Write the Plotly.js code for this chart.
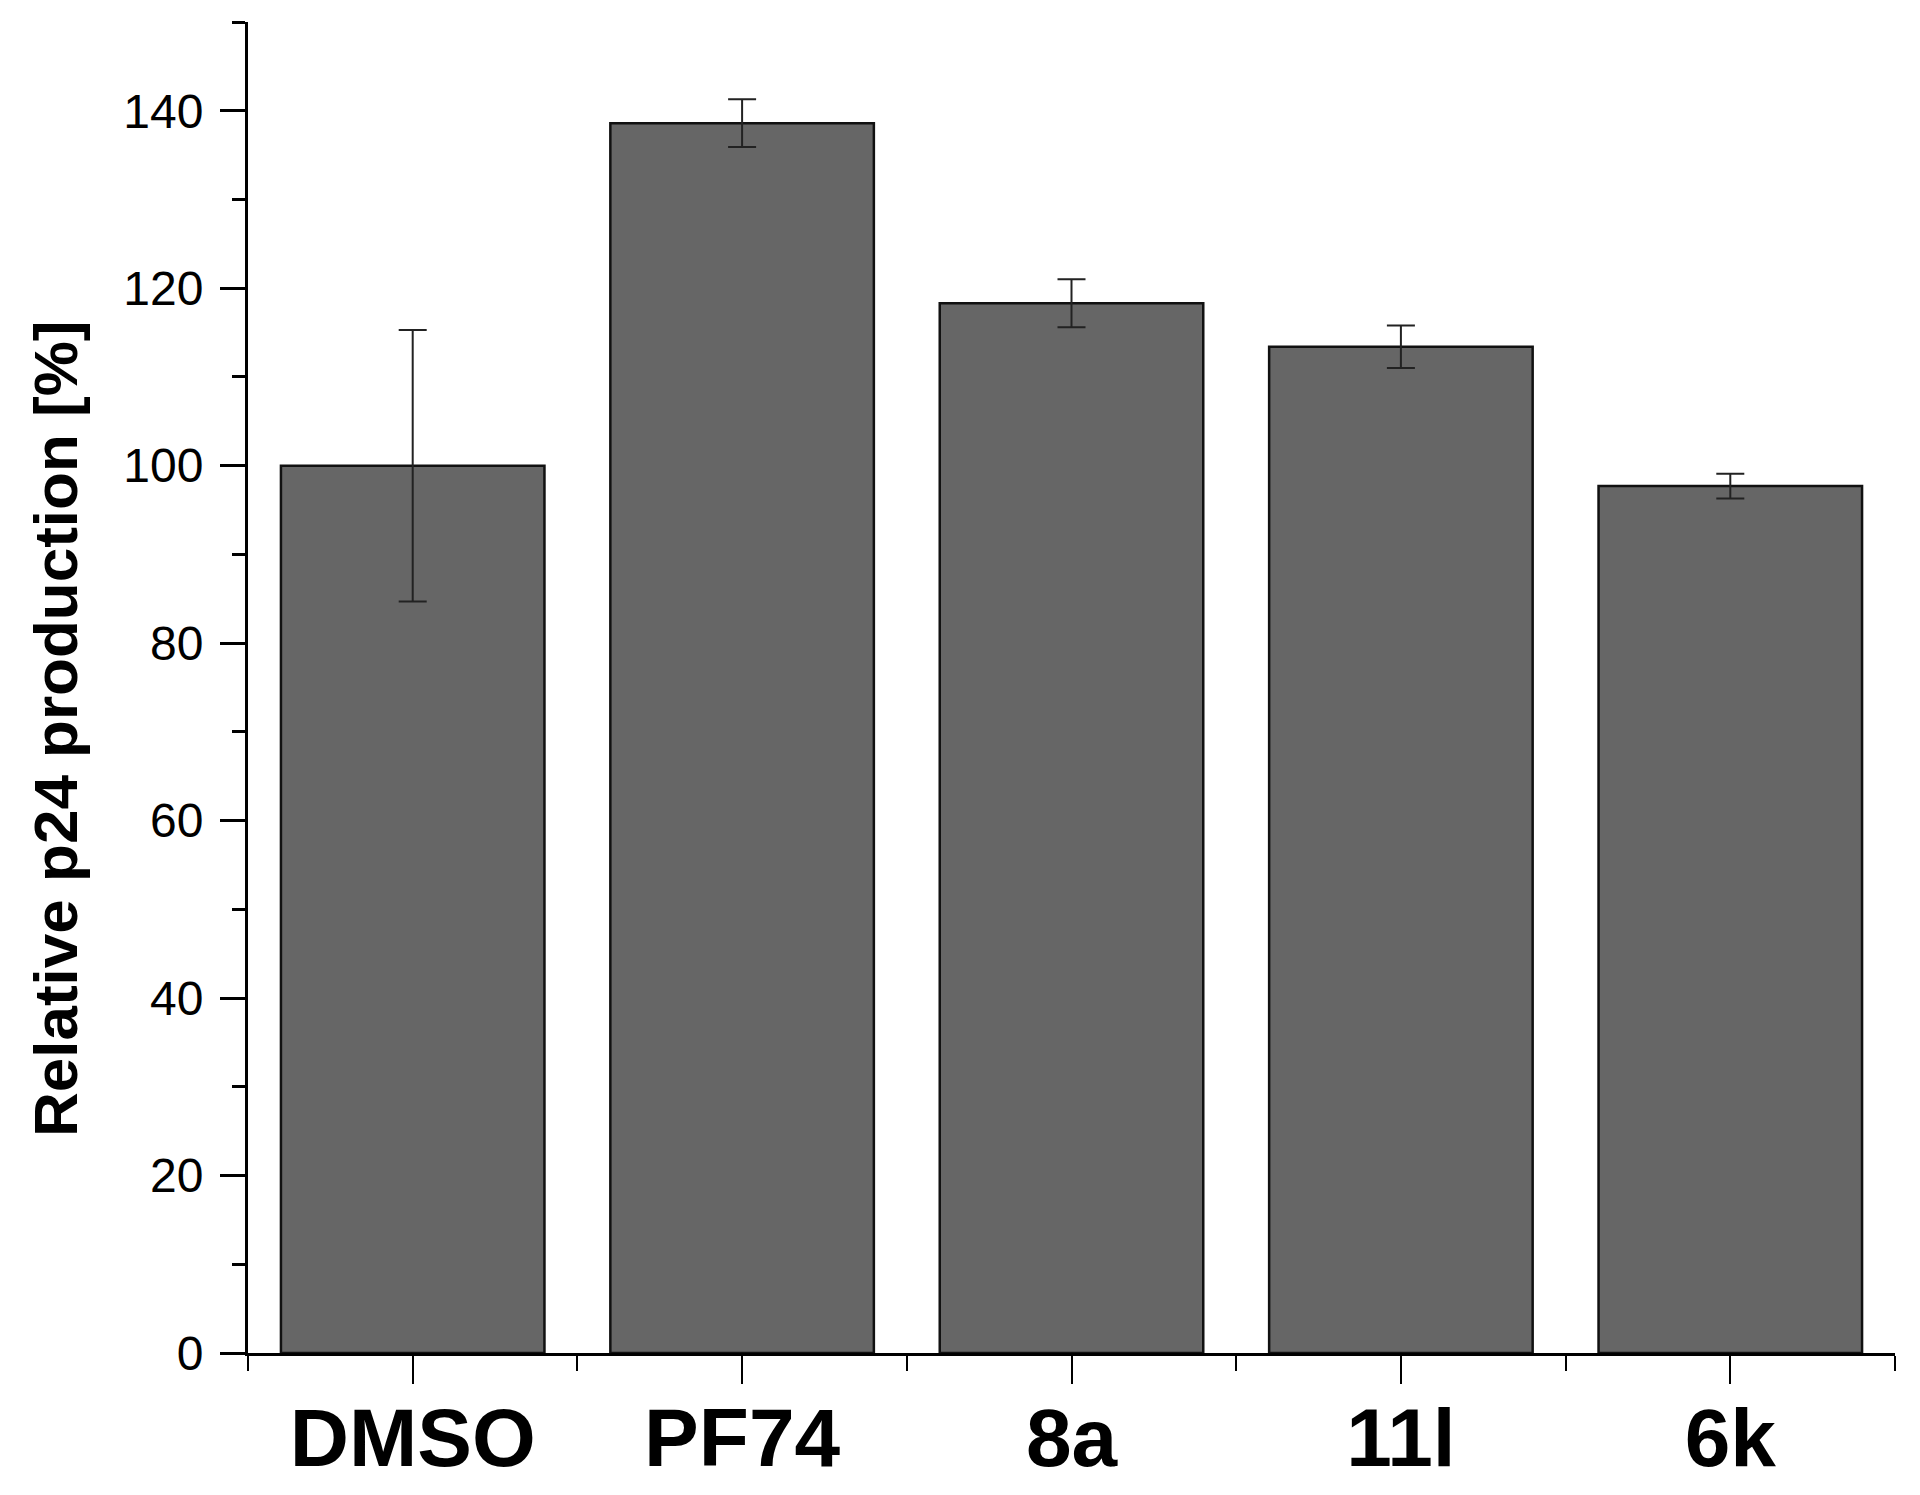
<!DOCTYPE html>
<html>
<head>
<meta charset="utf-8">
<script src="https://cdn.plot.ly/plotly-3.0.1.min.js"></script>
<style>
  html, body { margin: 0; padding: 0; background: #ffffff; }
  #chart { width: 1920px; height: 1495px; }
</style>
</head>
<body>
<div id="chart"></div>
<script>
// Data
const categories = ["DMSO", "PF74", "8a", "11l", "6k"];
const values = [100.0, 138.6, 118.3, 113.4, 97.7];
const errors = [15.3, 2.7, 2.7, 2.4, 1.4];
const yTickVals = [0, 20, 40, 60, 80, 100, 120, 140];
const yTitle = "Relative p24 production [%]";

const xIdx = categories.map((c, i) => i);

const trace = {
  type: "bar",
  x: xIdx,
  y: values,
  width: 0.8,
  marker: { color: "#666666", line: { color: "#111111", width: 2.5 } },
  error_y: { type: "data", array: errors, visible: true, color: "#222222", thickness: 2, width: 14 },
  hoverinfo: "skip"
};

const layout = {
  width: 1920,
  height: 1495,
  paper_bgcolor: "#ffffff",
  plot_bgcolor: "#ffffff",
  margin: { l: 248, r: 25, t: 22, b: 142 },
  showlegend: false,
  font: { family: "Liberation Sans, Arial, sans-serif", color: "#000000" },
  xaxis: {
    range: [-0.5, 4.5],
    tickmode: "array",
    tickvals: xIdx,
    ticktext: categories,
    ticks: "outside",
    ticklen: 28,
    tickwidth: 2,
    tickcolor: "#000000",
    showline: true,
    linecolor: "#000000",
    linewidth: 3,
    showgrid: false,
    zeroline: false,
    tickfont: { family: "Liberation Sans, Arial, sans-serif", size: 82, color: "#000000", weight: "bold" },
    ticklabelstandoff: -16,
    minor: { tickmode: "linear", tick0: -0.5, dtick: 1, ticks: "outside", ticklen: 15, tickwidth: 2, tickcolor: "#000000", showgrid: false }
  },
  yaxis: {
    range: [0, 150],
    tickmode: "array",
    tickvals: yTickVals,
    ticks: "outside",
    ticklen: 25,
    tickwidth: 3,
    tickcolor: "#000000",
    showline: true,
    linecolor: "#000000",
    linewidth: 3,
    showgrid: false,
    zeroline: false,
    tickfont: { family: "Liberation Sans, Arial, sans-serif", size: 48, color: "#000000" },
    ticklabelstandoff: 7,
    minor: { tickmode: "linear", tick0: 10, dtick: 20, ticks: "outside", ticklen: 13, tickwidth: 3, tickcolor: "#000000", showgrid: false }
  },
  annotations: [{
    text: "<b>" + yTitle + "</b>",
    xref: "paper", yref: "paper",
    x: (55 - 248) / 1647, y: (1353 - 729) / 1331,
    xanchor: "center", yanchor: "middle",
    textangle: -90,
    showarrow: false,
    font: { family: "Liberation Sans, Arial, sans-serif", size: 62, color: "#000000" }
  }]
};

Plotly.newPlot("chart", [trace], layout, { displayModeBar: false, staticPlot: true });
</script>
</body>
</html>
